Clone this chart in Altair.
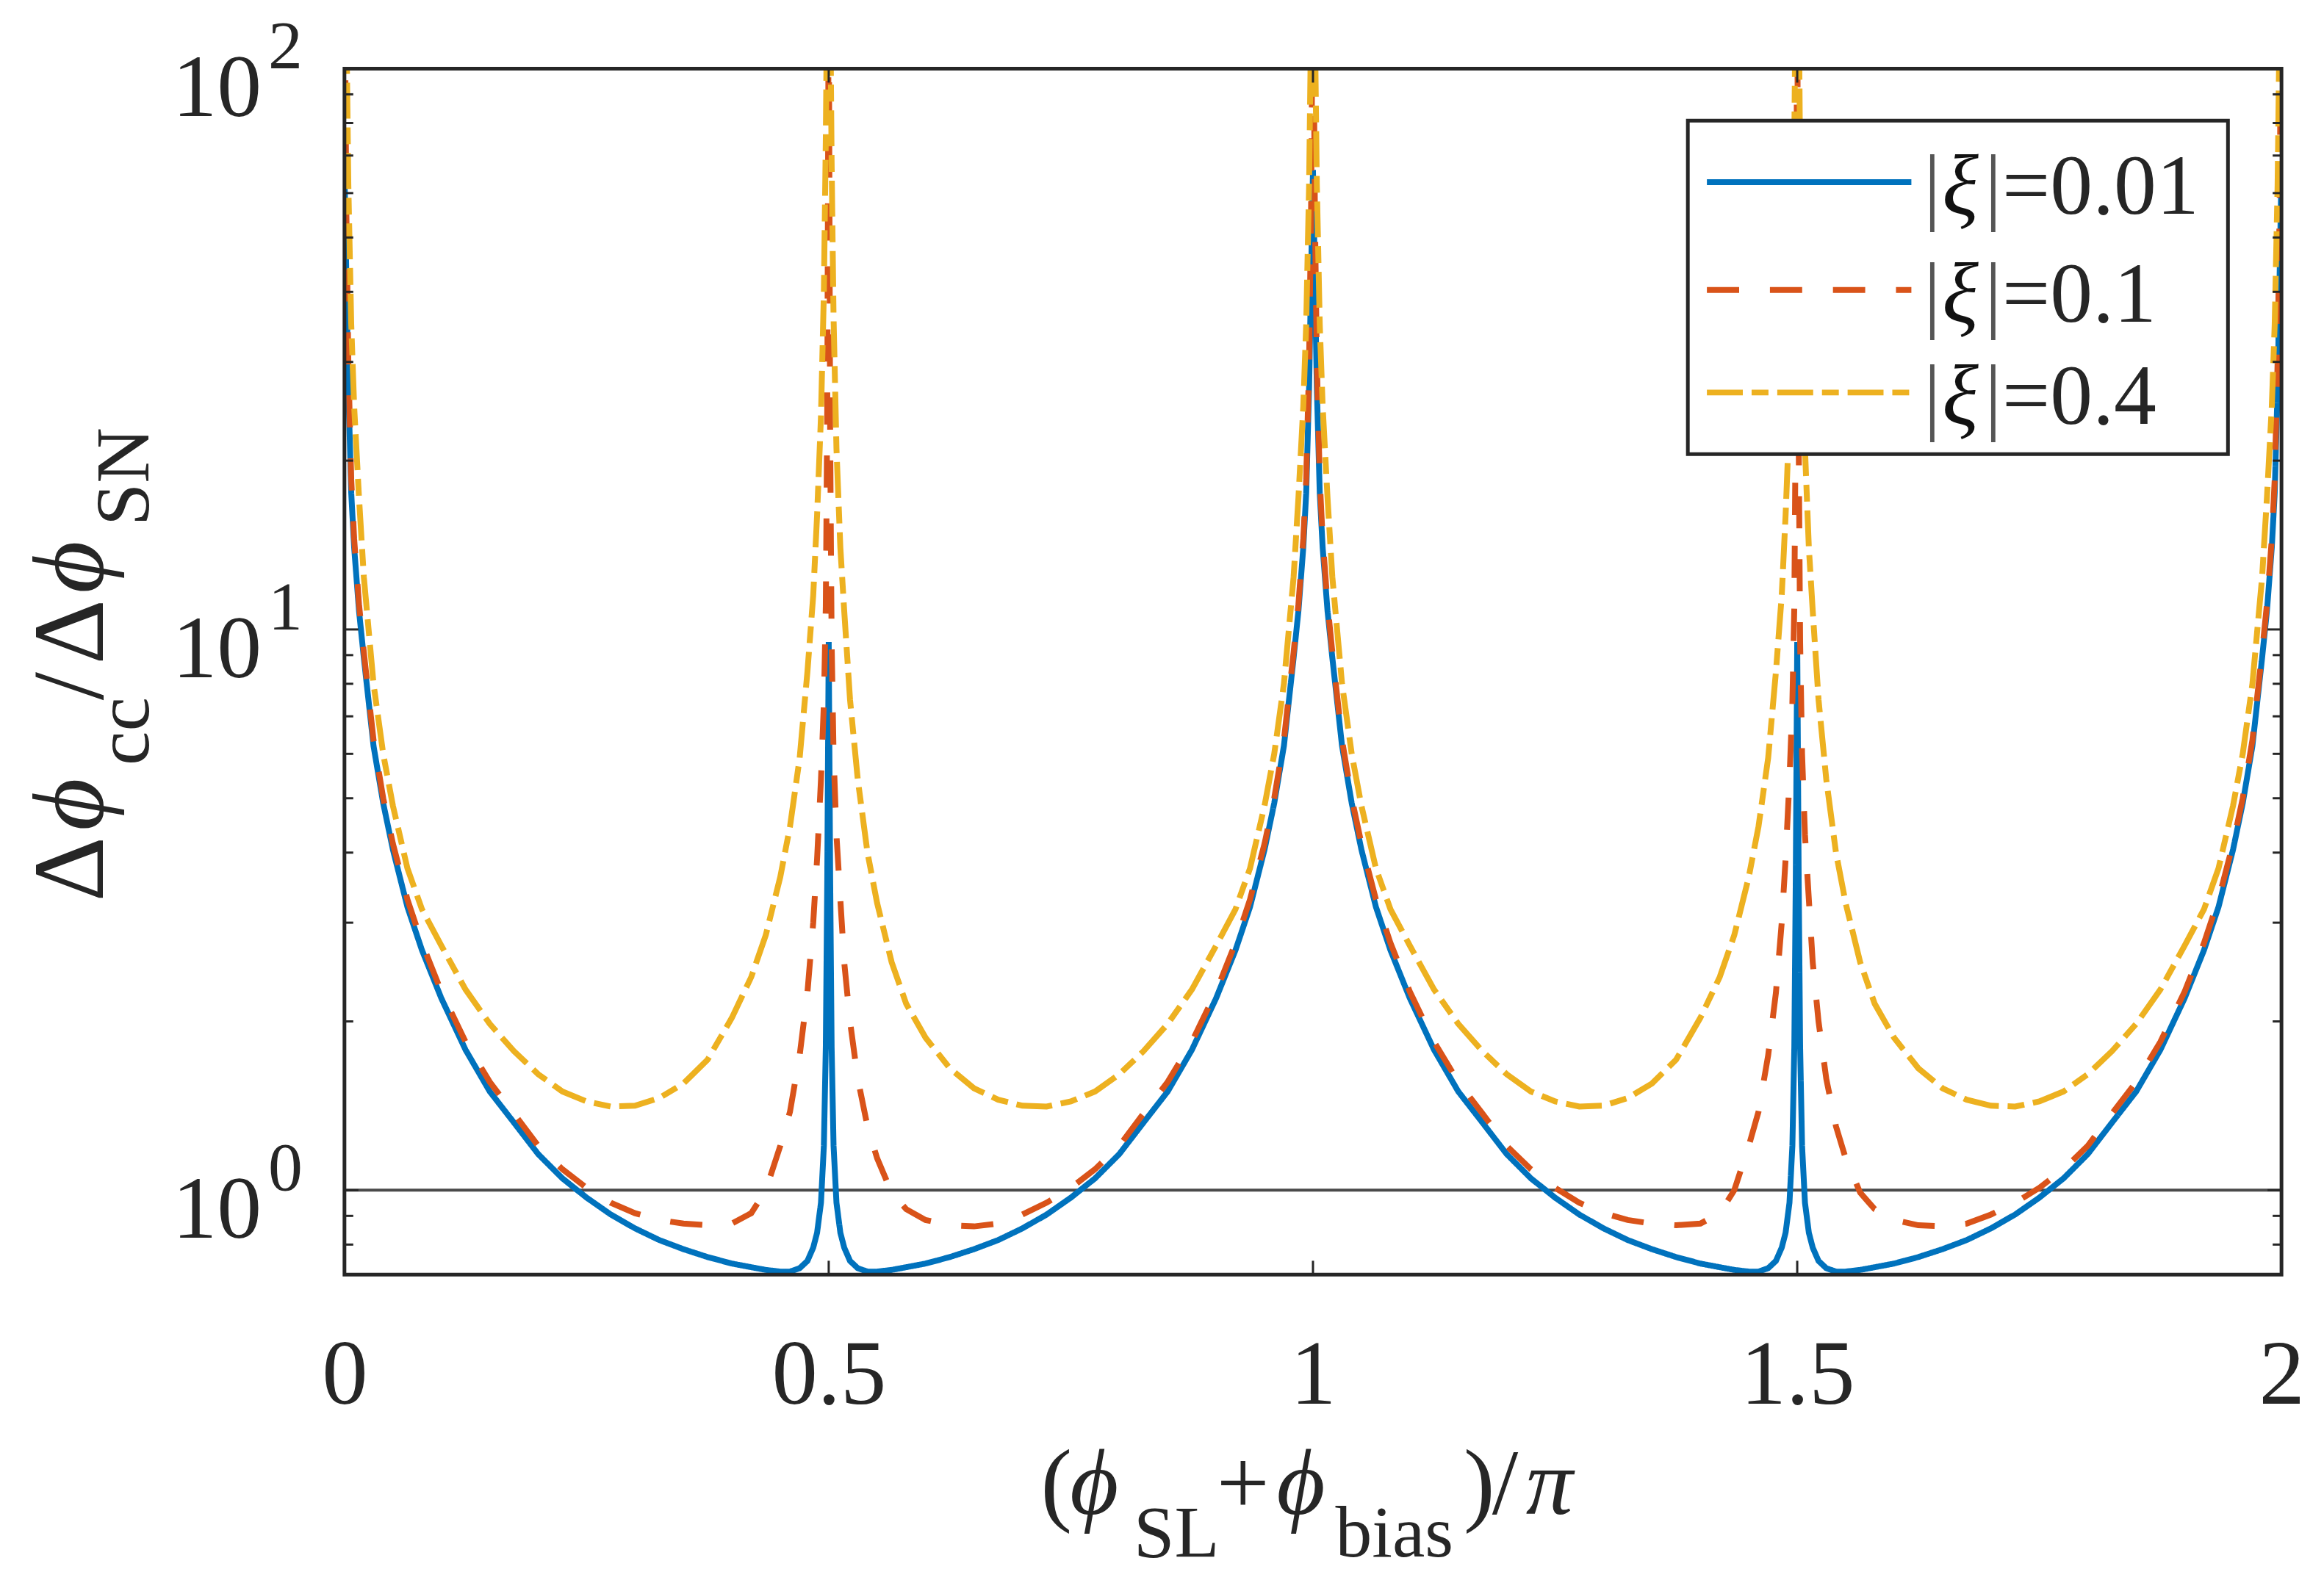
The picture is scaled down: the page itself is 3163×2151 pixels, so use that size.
import altair as alt
import pandas as pd

W, H = 2643, 1646
FONT = "Liberation Serif"
INK = "#262626"

# ---------------- data ----------------
x_01 = [0, 0.002, 0.004, 0.007, 0.01, 0.015, 0.02, 0.03, 0.04, 0.05, 0.065, 0.08, 0.1, 0.125, 0.15,
        0.175, 0.2, 0.225, 0.25, 0.275, 0.3, 0.325, 0.35, 0.375, 0.4, 0.42, 0.435, 0.45, 0.46, 0.47,
        0.478, 0.484, 0.488, 0.492, 0.495, 0.497, 0.4985, 0.5,
        0.5015, 0.503, 0.505, 0.508, 0.512, 0.516, 0.522, 0.53, 0.54, 0.55, 0.565, 0.58, 0.6, 0.625,
        0.65, 0.675, 0.7, 0.725, 0.75, 0.775, 0.8, 0.825, 0.85, 0.875, 0.9, 0.92, 0.935, 0.95, 0.96,
        0.97, 0.98, 0.985, 0.99, 0.993, 0.996, 0.998, 1.0]
x_12 = [1.002, 1.004, 1.007, 1.01, 1.015, 1.02, 1.03, 1.04, 1.05, 1.065, 1.08, 1.1, 1.125, 1.15,
        1.175, 1.2, 1.225, 1.25, 1.275, 1.3, 1.325, 1.35, 1.375, 1.4, 1.42, 1.435, 1.45, 1.46, 1.47,
        1.478, 1.484, 1.488, 1.492, 1.495, 1.497, 1.4985, 1.5,
        1.5015, 1.503, 1.505, 1.508, 1.512, 1.516, 1.522, 1.53, 1.54, 1.55, 1.565, 1.58, 1.6, 1.625,
        1.65, 1.675, 1.7, 1.725, 1.75, 1.775, 1.8, 1.825, 1.85, 1.875, 1.9, 1.92, 1.935, 1.95, 1.96,
        1.97, 1.98, 1.985, 1.99, 1.993, 1.996, 1.998, 2.0]

blue_01 = [66, 42, 27, 17.5, 14, 10.8, 8.9, 6.2, 4.9, 4.05, 3.2, 2.68, 2.2, 1.78, 1.5,
           1.32, 1.16, 1.05, 0.97, 0.905, 0.855, 0.815, 0.785, 0.76, 0.74, 0.729, 0.721, 0.716, 0.716, 0.726,
           0.748, 0.79, 0.84, 0.95, 1.2, 1.8, 3.6, 9.5,
           3.6, 1.8, 1.2, 0.95, 0.84, 0.79, 0.748, 0.726, 0.716, 0.716, 0.721, 0.729, 0.74, 0.76,
           0.785, 0.815, 0.855, 0.905, 0.97, 1.05, 1.16, 1.32, 1.5, 1.78, 2.2, 2.68, 3.2, 4.05, 4.9,
           6.2, 8.9, 10.8, 14, 17.5, 27, 42, 66]
blue_12 = [42, 27, 17.5, 14, 10.8, 8.9, 6.2, 4.9, 4.05, 3.2, 2.68, 2.2, 1.78, 1.5,
           1.32, 1.16, 1.05, 0.97, 0.905, 0.855, 0.815, 0.785, 0.76, 0.74, 0.729, 0.721, 0.716, 0.716, 0.726,
           0.748, 0.79, 0.84, 0.95, 1.2, 1.8, 3.6, 9.5,
           3.6, 1.8, 1.2, 0.95, 0.84, 0.79, 0.748, 0.726, 0.716, 0.716, 0.721, 0.729, 0.74, 0.76,
           0.785, 0.815, 0.855, 0.905, 0.97, 1.05, 1.16, 1.32, 1.5, 1.78, 2.2, 2.68, 3.2, 4.05, 4.9,
           6.2, 8.9, 10.8, 14, 17.5, 27, 42, 66]

red_01 = [160, 55, 30, 18.5, 14.5, 11.1, 9.1, 6.35, 5.0, 4.15, 3.3, 2.76, 2.26, 1.84, 1.56,
          1.37, 1.2, 1.09, 1.01, 0.95, 0.91, 0.885, 0.872, 0.866, 0.872, 0.91, 1.0, 1.2, 1.38, 1.74,
          2.25, 3.0, 3.9, 5.4, 7.4, 11, 25, 150,
          22, 9.5, 6.0, 4.3, 3.3, 2.55, 2.0, 1.58, 1.3, 1.14, 0.99, 0.925, 0.885, 0.866,
          0.862, 0.872, 0.905, 0.95, 1.01, 1.09, 1.2, 1.37, 1.56, 1.84, 2.26, 2.76, 3.3, 4.15, 5.0,
          6.35, 9.1, 11.1, 14.5, 18.5, 30, 55, 160]
red_12 = [55, 30, 18.5, 14.5, 11.1, 9.1, 6.35, 5.0, 4.15, 3.3, 2.76, 2.26, 1.84, 1.56,
          1.37, 1.2, 1.09, 1.01, 0.95, 0.91, 0.885, 0.872, 0.866, 0.872, 0.91, 1.0, 1.2, 1.38, 1.74,
          2.25, 3.0, 3.9, 5.4, 7.4, 11, 25, 150,
          22, 9.5, 6.0, 4.3, 3.3, 2.55, 2.0, 1.58, 1.3, 1.14, 0.99, 0.925, 0.885, 0.866,
          0.862, 0.872, 0.905, 0.95, 1.01, 1.09, 1.2, 1.37, 1.56, 1.84, 2.26, 2.76, 3.3, 4.15, 5.0,
          6.35, 9.1, 11.1, 14.5, 18.5, 30, 55, 160]

yellow_01 = [400, 120, 62, 35, 25, 17.2, 12.4, 8.0, 6.0, 4.85, 3.75, 3.17, 2.73, 2.28, 1.98,
             1.77, 1.61, 1.5, 1.44, 1.41, 1.415, 1.46, 1.55, 1.71, 2.03, 2.4, 2.85, 3.62, 4.45, 5.9,
             8.4, 11.5, 16, 24, 40, 75, 150, 400,
             140, 68, 36, 21, 14, 10.8, 7.5, 5.4, 4.0, 3.25, 2.55, 2.15, 1.87, 1.65,
             1.52, 1.45, 1.415, 1.41, 1.44, 1.5, 1.61, 1.77, 1.98, 2.28, 2.73, 3.17, 3.75, 4.85, 6.0,
             8.0, 12.4, 17.2, 25, 35, 62, 120, 400]
yellow_12 = [120, 62, 35, 25, 17.2, 12.4, 8.0, 6.0, 4.85, 3.75, 3.17, 2.73, 2.28, 1.98,
             1.77, 1.61, 1.5, 1.44, 1.41, 1.415, 1.46, 1.55, 1.71, 2.03, 2.4, 2.85, 3.62, 4.45, 5.9,
             8.4, 11.5, 16, 24, 40, 75, 150, 400,
             140, 68, 36, 21, 14, 10.8, 7.5, 5.4, 4.0, 3.25, 2.55, 2.15, 1.87, 1.65,
             1.52, 1.45, 1.415, 1.41, 1.44, 1.5, 1.61, 1.77, 1.98, 2.28, 2.73, 3.17, 3.75, 4.85, 6.0,
             8.0, 12.4, 17.2, 25, 35, 62, 120, 400]

series_values = ["0.01", "0.1", "0.4"]
series_colors = ["#0072BD", "#D95319", "#EDB120"]
series_dashes = [[1, 0], [44, 42], [49, 12, 23, 12]]

x_tick_values = [0, 0.5, 1, 1.5, 2]
y_major = [1, 10, 100]
y_exponents = ["0", "1", "2"]
y_minor = [0.8, 0.9, 2, 3, 4, 5, 6, 7, 8, 9, 20, 30, 40, 50, 60, 70, 80, 90]
x_inner_ticks = [0.5, 1, 1.5]
ref_level = [1]

# ---------------- scales ----------------
xscale = alt.Scale(domain=[0, 2], nice=False, zero=False)
yscale = alt.Scale(type="log", domain=[0.707, 100], nice=False)
xaxis = alt.Axis(values=x_tick_values, format="~g", title=None, domain=False, ticks=False,
                 tickSize=0, grid=False, labelFont=FONT, labelFontSize=125, labelColor=INK,
                 labelPadding=77, labelFlush=False)

one = pd.DataFrame({"k": [0]})

def txt(s, x, y, size, angle=0, italic=False, align="left", color=INK):
    return alt.Chart(one).mark_text(
        text=s, font=FONT, fontSize=size, fontStyle="italic" if italic else "normal",
        angle=angle, align=align, baseline="alphabetic", color=color
    ).encode(x=alt.value(x), y=alt.value(y))

layers = []

# reference line at 1
layers.append(
    alt.Chart(pd.DataFrame({"v": ref_level})).mark_rule(color="#4a4a4a", strokeWidth=4).encode(
        y=alt.Y("v:Q", scale=yscale, axis=None), x=alt.value(0), x2=alt.value(W))
)

# curves
for c, d, y01, y12 in zip(series_colors, series_dashes,
                          [blue_01, red_01, yellow_01], [blue_12, red_12, yellow_12]):
    df = pd.DataFrame({"x": x_01 + x_12, "y": y01 + y12})
    layers.append(
        alt.Chart(df).mark_line(color=c, strokeWidth=8, strokeDash=d, clip=True).encode(
            x=alt.X("x:Q", scale=xscale, axis=xaxis),
            y=alt.Y("y:Q", scale=yscale, axis=None),
            order="x:Q")
    )

# frame (box)
layers.append(alt.Chart(one).mark_rect(fill=None, stroke=INK, strokeWidth=5).encode(
    x=alt.value(0), x2=alt.value(W), y=alt.value(0), y2=alt.value(H)))

# ticks (inward)
ymaj = pd.DataFrame({"v": y_major})
ymin = pd.DataFrame({"v": y_minor})
xin = pd.DataFrame({"v": x_inner_ticks})
for dfv, L in [(ymaj, 19), (ymin, 12)]:
    layers.append(alt.Chart(dfv).mark_rule(color=INK, strokeWidth=3).encode(
        y=alt.Y("v:Q", scale=yscale, axis=None), x=alt.value(0), x2=alt.value(L)))
    layers.append(alt.Chart(dfv).mark_rule(color=INK, strokeWidth=3).encode(
        y=alt.Y("v:Q", scale=yscale, axis=None), x=alt.value(W - L), x2=alt.value(W)))
layers.append(alt.Chart(xin).mark_rule(color=INK, strokeWidth=3).encode(
    x=alt.X("v:Q", scale=xscale, axis=xaxis), y=alt.value(H - 19), y2=alt.value(H)))
layers.append(alt.Chart(xin).mark_rule(color=INK, strokeWidth=3).encode(
    x=alt.X("v:Q", scale=xscale, axis=xaxis), y=alt.value(0), y2=alt.value(19)))

# y tick labels 10^n
ylab = pd.DataFrame({"v": y_major, "e": y_exponents})
layers.append(alt.Chart(ylab).mark_text(
    text="10", font=FONT, fontSize=122, align="right", baseline="alphabetic", dy=65, color=INK
).encode(y=alt.Y("v:Q", scale=yscale, axis=None), x=alt.value(-113)))
layers.append(alt.Chart(ylab).mark_text(
    font=FONT, fontSize=94, align="left", baseline="alphabetic", dy=0, color=INK
).encode(y=alt.Y("v:Q", scale=yscale, axis=None), x=alt.value(-104), text="e:N"))

# legend
layers.append(alt.Chart(one).mark_rect(fill="white", stroke=INK, strokeWidth=5).encode(
    x=alt.value(1833), x2=alt.value(2570), y=alt.value(71), y2=alt.value(526)))
for i, (val, c, d) in enumerate(zip(series_values, series_colors, series_dashes)):
    ly = [155, 302, 442][i]
    layers.append(alt.Chart(one).mark_rule(color=c, strokeWidth=8, strokeDash=d).encode(
        x=alt.value(1859), x2=alt.value(2138), y=alt.value(ly)))
    base = ly + 43
    layers.append(txt("|", 2155, base, 116, color="#555555"))
    layers.append(txt("ξ", 2180, base, 116, italic=True, color="#111111"))
    layers.append(txt("|", 2238, base, 116, color="#555555"))
    layers.append(txt("=" + val, 2262, base, 116))

# x title: (ϕ_SL+ϕ_bias)/π
XM, XS = 1973, 2031
layers += [
    txt("(", 950, XM, 128),
    txt("ϕ", 990, XM, 128, italic=True),
    txt("SL", 1077, XS, 100),
    txt("+", 1190, XM, 128),
    txt("ϕ", 1272, XM, 128, italic=True),
    txt("bias", 1352, XS, 100),
    txt(")", 1527, XM, 128),
    txt("/", 1566, XM, 128),
    txt("π", 1612, XM, 128, italic=True),
]

# y title: Δϕ_cc/Δϕ_SN (rotated)
YM, YS = -330, -268
layers += [
    txt("Δ", YM, 1137, 138, angle=270),
    txt("ϕ", YM, 1040, 138, angle=270, italic=True),
    txt("cc", YS, 951, 105, angle=270),
    txt("/", YM, 862, 138, angle=270),
    txt("Δ", YM, 813, 138, angle=270),
    txt("ϕ", YM, 716, 138, angle=270, italic=True),
    txt("SN", YS, 624, 105, angle=270),
]

chart = alt.layer(*layers).properties(
    width=W, height=H,
    padding={"left": 462, "top": 83, "right": 50, "bottom": 405},
    autosize=alt.AutoSizeParams(type="none"),
    background="white",
).configure_view(stroke=None)

chart.save("out.html", embed_options={"renderer": "svg", "actions": False})
